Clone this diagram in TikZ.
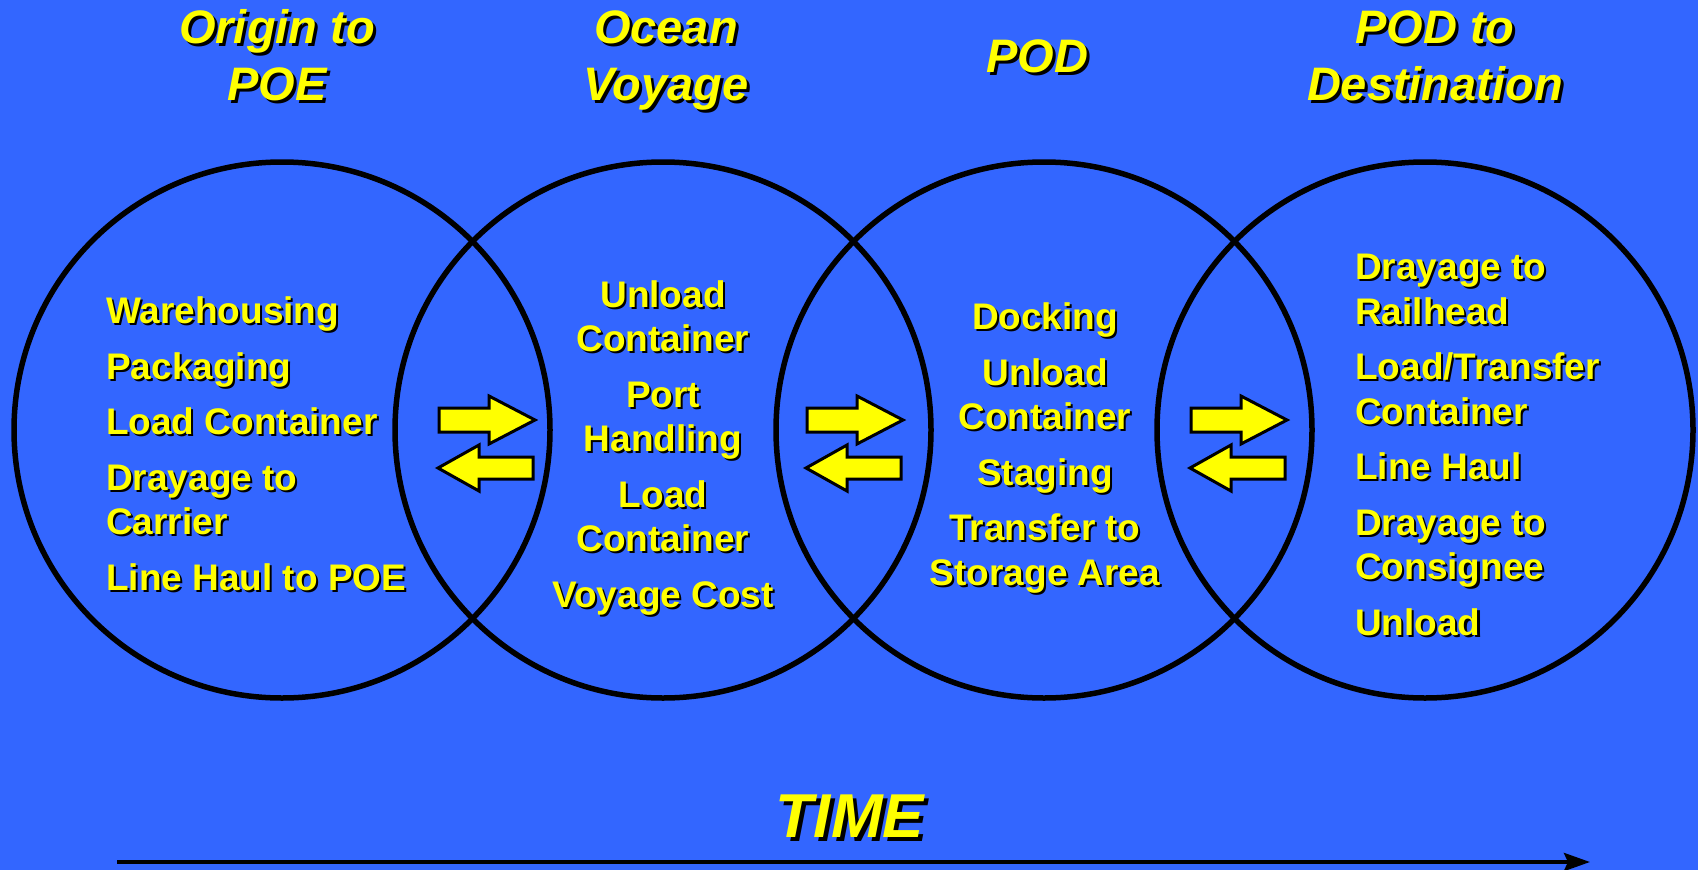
\documentclass[tikz,border=0pt]{standalone}
\usepackage{fontspec}
\setmainfont{Liberation Sans}
\usetikzlibrary{arrows.meta}
\definecolor{bgblue}{RGB}{51,102,255}
\definecolor{ylw}{RGB}{255,255,0}
\tikzset{
  ring/.style={draw=black, line width=5.5pt, circle, minimum size=536pt, inner sep=0pt},
  body/.style={text=ylw, inner sep=0pt, font=\fontsize{37}{44.5}\selectfont\bfseries},
  ttl/.style={text=ylw, inner sep=0pt, align=center, font=\fontsize{47}{57}\selectfont\bfseries\itshape},
  timet/.style={text=ylw, inner sep=0pt, font=\fontsize{62}{70}\selectfont\bfseries\itshape},
  blockarrow/.style={fill=ylw, draw=black, line width=3pt, line join=miter},
  timeline/.style={draw=black, line width=4pt, -{Stealth[length=26pt,width=18pt,inset=4pt]}}
}
% shadowed text: name, style, position (baseline of last line), shadow offset, text
\newcommand\shtext[5]{%
  \node[#2, text=black, xshift=#4, yshift=-#4] (#1s) at (#3) {#5};
  \node[#2] (#1) at (#3) {#5};}
\begin{document}
\begin{tikzpicture}[x=1pt,y=-1pt]
\fill[bgblue] (0,0) rectangle (1698,870);
\useasboundingbox (0,0) rectangle (1698,870);
% circles
\node[ring] (c1) at (282,430) {};
\node[ring] (c2) at (663,430) {};
\node[ring] (c3) at (1044,430) {};
\node[ring] (c4) at (1425,430) {};
% titles
\shtext{t1}{ttl, anchor=base}{277,100}{3pt}{Origin to\\POE}
\shtext{t2}{ttl, anchor=base}{666,100}{3pt}{Ocean\\Voyage}
\shtext{t3}{ttl, anchor=base}{1037,72}{3pt}{POD}
\shtext{t4}{ttl, anchor=base}{1435,100}{3pt}{POD to\\Destination}
% bodies
\shtext{b1}{body, align=left, anchor=base west}{106,590}{2pt}{Warehousing\\[11pt]Packaging\\[11pt]Load Container\\[11pt]Drayage to\\Carrier\\[11pt]Line Haul to POE}
\shtext{b2}{body, align=center, anchor=base}{663,607}{2pt}{Unload\\Container\\[11pt]Port\\Handling\\[11pt]Load\\Container\\[11pt]Voyage Cost}
\shtext{b3}{body, align=center, anchor=base}{1045,585}{2pt}{Docking\\[11pt]Unload\\Container\\[11pt]Staging\\[11pt]Transfer to\\Storage Area}
\shtext{b4}{body, align=left, anchor=base west}{1355,635}{2pt}{Drayage to\\Railhead\\[11pt]Load/Transfer\\Container\\[11pt]Line Haul\\[11pt]Drayage to\\Consignee\\[11pt]Unload}
% yellow block arrows
\foreach \dx in {0, 368, 752} {
  \begin{scope}[xshift=\dx]
    \draw[blockarrow] (439,408) -- (489,408) -- (489,396) -- (535,420) -- (489,444) -- (489,432) -- (439,432) -- cycle;
    \draw[blockarrow] (533,457) -- (479,457) -- (479,445) -- (438,468) -- (479,491) -- (479,479) -- (533,479) -- cycle;
  \end{scope}
}
% time
\shtext{time}{timet, anchor=base}{850,837}{4pt}{TIME}
\coordinate (tstart) at (117,862);
\coordinate (tend) at (1590,862);
\draw[timeline] (tstart) -- (tend);
\end{tikzpicture}
\end{document}
